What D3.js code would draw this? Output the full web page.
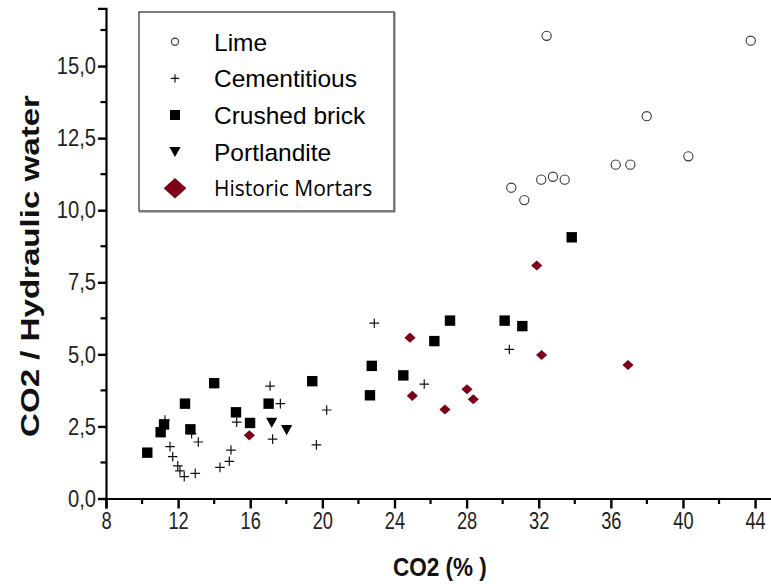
<!DOCTYPE html>
<html>
<head>
<meta charset="utf-8">
<script src="https://cdn.jsdelivr.net/npm/d3@7/dist/d3.min.js"></script>
<style>
  html, body { margin: 0; padding: 0; background: #fff; }
  svg { display: block; font-family: "Liberation Sans", Arial, sans-serif; }
</style>
</head>
<body>
<svg id="chart" width="771" height="584"></svg>
<script>
// ---- data: [CO2 %, CO2 / hydraulic water] ----
const lime = [
  [32.44, 16.05], [43.76, 15.88], [37.99, 13.26], [40.30, 11.87],
  [36.27, 11.58], [37.08, 11.58], [32.14, 11.06], [32.79, 11.16],
  [33.44, 11.06], [30.48, 10.78], [31.20, 10.35]
];
const cementitious = [
  [22.88, 6.08], [30.37, 5.17], [25.65, 3.97], [20.24, 3.07],
  [17.10, 3.90], [17.67, 3.29], [15.25, 2.65], [17.24, 2.06],
  [19.67, 1.86], [14.93, 1.68], [14.84, 1.29], [14.32, 1.08],
  [11.27, 2.72], [12.75, 2.25], [13.12, 1.96], [11.55, 1.80],
  [11.70, 1.45], [11.98, 1.13], [12.10, 0.96], [12.34, 0.76],
  [12.95, 0.87]
];
const crushedBrick = [
  [33.83, 9.06], [27.08, 6.17], [30.11, 6.17], [31.09, 5.98],
  [26.21, 5.46], [22.74, 4.60], [24.49, 4.27], [22.64, 3.58],
  [19.44, 4.07], [17.02, 3.29], [15.21, 2.99], [15.99, 2.62],
  [14.00, 4.00], [12.38, 3.29], [11.22, 2.57], [11.03, 2.30],
  [12.68, 2.40], [10.29, 1.59]
];
const portlandite = [
  [17.19, 2.64], [18.02, 2.38]
];
const historicMortars = [
  [31.89, 8.08], [24.86, 5.58], [32.16, 4.98], [36.95, 4.63],
  [28.02, 3.79], [24.99, 3.56], [28.37, 3.44], [26.80, 3.09],
  [15.95, 2.19]
];

const xTicks = [8, 12, 16, 20, 24, 28, 32, 36, 40, 44];
const yTicks = [0, 2.5, 5, 7.5, 10, 12.5, 15];
const seriesNames = ["Lime", "Cementitious", "Crushed brick", "Portlandite", "Historic Mortars"];

const xTitle = "CO2 (% )";
const yTitle = "CO2 / Hydraulic water";

// ---- layout ----
const svg = d3.select("#chart");
const origin = { x: 106, y: 498.5 };
const x = d3.scaleLinear().domain([8, 45]).range([origin.x, origin.x + 37 * 18.03]);
const y = d3.scaleLinear().domain([0, 17]).range([origin.y, origin.y - 17 * 28.83]);

const locale = d3.formatLocale({ decimal: ",", thousands: ".", grouping: [3], currency: ["", ""] });
const fmtY = locale.format(".1f");

const darkRed = "#80001a";
const sans = "'Liberation Sans', Arial, sans-serif";

// squeeze axis text a little horizontally
function condense(sel, k) {
  sel.each(function () {
    const w = this.getComputedTextLength();
    d3.select(this).attr("textLength", w * k).attr("lengthAdjust", "spacingAndGlyphs");
  });
}

// ---- axes ----
const xAxis = svg.append("g").attr("transform", `translate(0,${origin.y})`)
  .call(d3.axisBottom(x).tickValues(xTicks).tickSize(10).tickPadding(3).tickFormat(d3.format("d")));
const yAxis = svg.append("g").attr("transform", `translate(${origin.x},0)`)
  .call(d3.axisLeft(y).tickValues(yTicks).tickSize(8).tickPadding(2).tickFormat(fmtY));

[xAxis, yAxis].forEach(g => {
  g.select(".domain").attr("stroke", "#000").attr("stroke-width", 2.2);
  g.selectAll(".tick line").attr("stroke", "#000").attr("stroke-width", 2.4);
  g.selectAll(".tick text").attr("fill", "#222").style("font-size", "24px")
    .style("font-family", sans);
});
xAxis.selectAll(".tick text").call(condense, 0.76);
yAxis.selectAll(".tick text").call(condense, 0.84);

// minor ticks halfway between the labelled ones
const xMinor = xTicks.map(d => d + 2);
const yMinor = yTicks.map(d => d + 1.25);
xAxis.selectAll("line.minor").data(xMinor).enter().append("line")
  .attr("x1", d => x(d)).attr("x2", d => x(d)).attr("y1", 0).attr("y2", 5.5)
  .attr("stroke", "#000").attr("stroke-width", 2.2);
yAxis.selectAll("line.minor").data(yMinor).enter().append("line")
  .attr("y1", d => y(d)).attr("y2", d => y(d)).attr("x1", 0).attr("x2", -5.5)
  .attr("stroke", "#000").attr("stroke-width", 2.2);

// axis titles
svg.append("text").attr("x", 440).attr("y", 576).attr("text-anchor", "middle")
  .style("font-size", "25px").style("font-weight", "bold").style("font-family", sans)
  .attr("fill", "#111").text(xTitle)
  .call(condense, 0.9);
svg.append("text").attr("transform", "translate(39,266) rotate(-90)").attr("text-anchor", "middle")
  .style("font-size", "25px").style("font-weight", "bold").style("font-family", sans)
  .attr("fill", "#111").text(yTitle)
  .attr("textLength", 342).attr("lengthAdjust", "spacingAndGlyphs");

// ---- marker shapes ----
const sym = {
  circle: (g, s) => g.append("circle").attr("r", s).attr("fill", "#fff").attr("stroke", "#333").attr("stroke-width", 1.1),
  plus: (g, s) => g.append("path").attr("d", `M${-s},0H${s}M0,${-s}V${s}`).attr("stroke", "#111").attr("stroke-width", 1.2).attr("fill", "none"),
  square: (g, s) => g.append("rect").attr("x", -s).attr("y", -s).attr("width", 2 * s).attr("height", 2 * s).attr("fill", "#000"),
  triangle: (g, s) => g.append("path").attr("d", `M${-s},${-s * 0.85}L${s},${-s * 0.85}L0,${s * 0.95}Z`).attr("fill", "#000"),
  diamond: (g, s) => g.append("path").attr("d", `M0,${-s * 0.9}L${s},0L0,${s * 0.9}L${-s},0Z`).attr("fill", darkRed)
};

function plot(data, shape, size) {
  const g = svg.append("g");
  data.forEach(d => {
    const m = g.append("g").attr("transform", `translate(${x(d[0])},${y(d[1])})`);
    sym[shape](m, size);
  });
}

plot(lime, "circle", 4.6);
plot(cementitious, "plus", 4.8);
plot(crushedBrick, "square", 5.2);
plot(portlandite, "triangle", 5.6);
plot(historicMortars, "diamond", 5.6);

// ---- legend ----
const legend = svg.append("g");
legend.append("rect").attr("x", 139).attr("y", 12).attr("width", 255).attr("height", 199)
  .attr("fill", "#fff").attr("stroke", "#000").attr("stroke-width", 1);
legend.append("path").attr("d", "M139,211.5H394.5V12").attr("fill", "none").attr("stroke", "#777").attr("stroke-width", 2);

const legendShapes = [["circle", 3.6], ["plus", 4.2], ["square", 5], ["triangle", 5.6], ["diamond", 11.4]];
seriesNames.forEach((name, i) => {
  const cy = 41.7 + i * 36.65;
  const m = legend.append("g").attr("transform", `translate(175,${cy})`);
  sym[legendShapes[i][0]](m, legendShapes[i][1]);
  const t = legend.append("text").attr("x", 214).attr("fill", "#000").text(name);
  if (i < 4) {
    t.attr("y", cy + 9).style("font-size", "24.5px").style("font-family", sans);
  } else {
    t.attr("y", cy + 8).style("font-size", "21px").style("font-family", "'Open Sans', 'Noto Sans', sans-serif");
  }
});
</script>
</body>
</html>
